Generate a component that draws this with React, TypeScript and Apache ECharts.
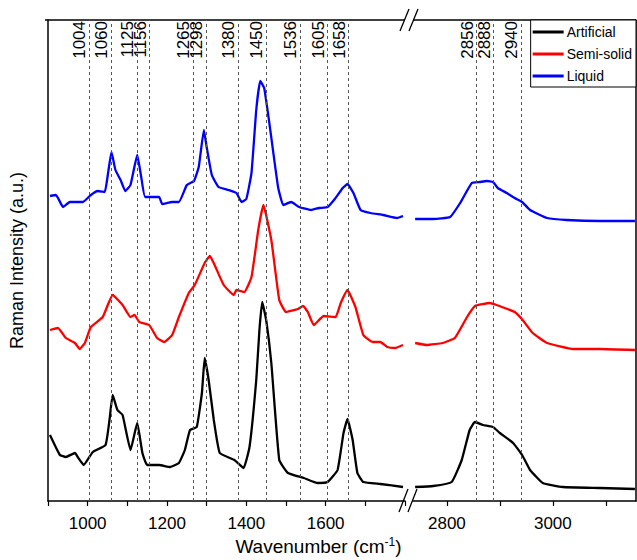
import { useEffect, useRef } from 'react';
import * as echarts from 'echarts';

// wavenumber / intensity pairs
const artificialLow = [
  [905, 57], [930, 37], [945, 35], [968, 39], [975, 35], [990, 27], [1013, 40], [1045, 47], [1055, 72],
  [1063, 97], [1075, 82], [1088, 77], [1108, 42], [1125, 69], [1138, 39], [1150, 27], [1180, 27], [1208, 25],
  [1230, 29], [1245, 42], [1258, 62], [1275, 65], [1288, 99], [1295, 134], [1305, 112], [1318, 72], [1333, 39],
  [1370, 32], [1393, 24], [1408, 45], [1425, 112], [1433, 162], [1440, 190], [1450, 172], [1463, 129],
  [1483, 32], [1505, 19], [1545, 14], [1580, 9], [1605, 10], [1630, 22], [1645, 59], [1655, 73], [1668, 52],
  [1680, 19], [1695, 10], [1738, 8], [1795, 5],
];
const artificialHigh = [
  [2740, 5], [2774, 6], [2809, 10], [2828, 32], [2843, 62], [2853, 70], [2868, 67], [2887, 65], [2900, 59],
  [2925, 49], [2942, 37], [2957, 22], [2981, 9], [3019, 5], [3089, 4], [3155, 3],
];
const semiLow = [
  [905, 162], [925, 164], [945, 154], [968, 149], [980, 143], [993, 149], [1008, 165], [1038, 175], [1063, 197],
  [1088, 187], [1108, 175], [1118, 177], [1130, 170], [1155, 167], [1175, 154], [1193, 150], [1213, 157],
  [1230, 175], [1255, 199], [1270, 207], [1295, 229], [1308, 236], [1320, 227], [1343, 207], [1368, 197],
  [1375, 202], [1395, 200], [1413, 215], [1430, 262], [1443, 287], [1463, 252], [1483, 192], [1500, 180],
  [1530, 183], [1543, 186], [1555, 180], [1570, 167], [1595, 176], [1625, 175], [1638, 189], [1655, 202],
  [1675, 185], [1695, 157], [1718, 150], [1738, 150], [1755, 145], [1775, 144], [1795, 147],
];
const semiHigh = [
  [2740, 149], [2762, 147], [2792, 149], [2815, 154], [2838, 175], [2853, 186], [2881, 189], [2894, 187],
  [2909, 184], [2928, 180], [2943, 172], [2962, 159], [2989, 149], [3038, 143], [3089, 143], [3155, 142],
];
const liquidLow = [
  [905, 296], [920, 297], [938, 285], [955, 290], [988, 290], [1008, 297], [1025, 301], [1043, 300], [1050, 315],
  [1060, 340], [1070, 322], [1083, 312], [1095, 301], [1108, 307], [1125, 337], [1135, 315], [1145, 295],
  [1180, 295], [1188, 288], [1213, 290], [1230, 290], [1250, 307], [1268, 311], [1280, 325], [1293, 362],
  [1300, 345], [1313, 317], [1330, 305], [1355, 302], [1375, 299], [1388, 290], [1400, 293], [1413, 319],
  [1425, 382], [1435, 411], [1445, 404], [1458, 369], [1480, 305], [1493, 287], [1513, 290], [1533, 285],
  [1563, 282], [1583, 284], [1605, 285], [1625, 294], [1643, 304], [1655, 308], [1670, 299], [1688, 282],
  [1713, 279], [1745, 277], [1780, 274], [1795, 276],
];
const liquidHigh = [
  [2740, 273], [2774, 273], [2806, 275], [2825, 289], [2847, 309], [2862, 310], [2875, 311], [2887, 310],
  [2896, 304], [2913, 299], [2928, 294], [2942, 290], [2957, 282], [2989, 274], [3026, 272], [3089, 271],
  [3155, 271],
];
const peaksLow = [1004, 1060, 1125, 1156, 1265, 1298, 1380, 1450, 1536, 1605, 1658];
const peaksHigh = [2856, 2888, 2940];
const lowTickLabels = [1000, 1200, 1400, 1600];
const highTicks = [2800, 2900, 3000, 3100];
const highTickLabels = [2800, 3000];

const FONT = 'Liberation Sans, Arial, sans-serif';
const TOP = 20;
const BOTTOM = 501;

export default function App() {
  const chartRef = useRef<HTMLDivElement>(null);

  useEffect(() => {
    document.body.style.margin = '0';
    if (!chartRef.current) return;
    const chart = echarts.init(chartRef.current, undefined, { renderer: 'svg' });

    const markLabel = {
      show: true,
      position: 'insideEndTop' as const,
      formatter: '{c}',
      color: '#000',
      fontFamily: FONT,
      fontSize: 17,
      distance: 1,
    };
    const marks = (vals: number[]) => ({
      silent: true,
      symbol: 'none',
      lineStyle: { color: '#555', type: [3, 3] as any, width: 1 },
      label: markLabel,
      data: vals.map((v) => ({ xAxis: v, label: markLabel })),
    });

    const line = (name: string, color: string, data: number[][], idx: number, extra: any = {}) => ({
      name,
      type: 'line',
      xAxisIndex: idx,
      yAxisIndex: idx,
      data,
      showSymbol: false,
      smooth: 0.12,
      lineStyle: { color, width: 2.3 },
      itemStyle: { color },
      z: 3,
      ...extra,
    });

    const axisText = { color: '#000', fontFamily: FONT, fontSize: 17 };
    const axisLine = { show: true, onZero: false, lineStyle: { color: '#000', width: 1.5 } };

    const option: echarts.EChartsOption = {
      animation: false,
      textStyle: { fontFamily: FONT },
      grid: [
        { left: 45, top: TOP, width: 360, height: BOTTOM - TOP },
        { left: 413, top: TOP, width: 223, height: BOTTOM - TOP },
      ],
      xAxis: [
        {
          type: 'value', gridIndex: 0, min: 900, max: 1800, interval: 100,
          axisLine, splitLine: { show: false },
          axisTick: { show: true, length: 5, lineStyle: { color: '#000', width: 1.2 } },
          axisLabel: {
            ...axisText, margin: 14,
            formatter: (v: number) => (lowTickLabels.includes(v) ? String(v) : ''),
          },
        },
        {
          type: 'value', gridIndex: 1, min: 2736, max: 3157,
          axisLine, splitLine: { show: false },
          axisTick: { show: true, length: 5, customValues: highTicks, lineStyle: { color: '#000', width: 1.2 } } as any,
          axisLabel: { ...axisText, margin: 14, customValues: highTickLabels, formatter: (v: number) => String(v) } as any,
        },
      ],
      yAxis: [
        {
          type: 'value', gridIndex: 0, min: -9, max: 472,
          axisLine, axisTick: { show: false }, axisLabel: { show: false }, splitLine: { show: false },
          name: 'Raman Intensity (a.u.)', nameLocation: 'middle', nameGap: 22,
          nameTextStyle: { color: '#000', fontFamily: FONT, fontSize: 18 },
        },
        {
          type: 'value', gridIndex: 1, min: -9, max: 472, position: 'right',
          axisLine, axisTick: { show: false }, axisLabel: { show: false }, splitLine: { show: false },
        },
      ],
      legend: {
        orient: 'vertical',
        right: 1,
        top: TOP,
        data: ['Artificial', 'Semi-solid', 'Liquid'],
        icon: 'rect',
        itemWidth: 31,
        itemHeight: 3,
        itemGap: 8,
        padding: [5, 4, 4, 2],
        backgroundColor: '#fff',
        borderColor: '#000',
        borderWidth: 1,
        borderRadius: 0,
        textStyle: { color: '#000', fontFamily: FONT, fontSize: 14, padding: [0, 0, 0, -2] },
        z: 10,
      },
      series: [
        line('Artificial', '#000000', artificialLow, 0, { markLine: marks(peaksLow) }),
        line('Semi-solid', '#ff0000', semiLow, 0),
        line('Liquid', '#0000ff', liquidLow, 0),
        line('Artificial', '#000000', artificialHigh, 1, { markLine: marks(peaksHigh) }),
        line('Semi-solid', '#ff0000', semiHigh, 1),
        line('Liquid', '#0000ff', liquidHigh, 1),
      ] as any,
      graphic: [
        { type: 'line', shape: { x1: 45, y1: TOP, x2: 405, y2: TOP }, style: { stroke: '#000', lineWidth: 1.5 } },
        { type: 'line', shape: { x1: 413, y1: TOP, x2: 636, y2: TOP }, style: { stroke: '#000', lineWidth: 1.5 } },
        { type: 'line', shape: { x1: 399, y1: 512, x2: 408, y2: 489 }, style: { stroke: '#000', lineWidth: 1.3 } },
        { type: 'line', shape: { x1: 408, y1: 512, x2: 417, y2: 489 }, style: { stroke: '#000', lineWidth: 1.3 } },
        { type: 'line', shape: { x1: 400, y1: 31, x2: 409, y2: 9 }, style: { stroke: '#000', lineWidth: 1.3 } },
        { type: 'line', shape: { x1: 409, y1: 31, x2: 418, y2: 9 }, style: { stroke: '#000', lineWidth: 1.3 } },
        {
          type: 'text',
          left: 'center',
          top: 536,
          style: {
            text: 'Wavenumber (cm{sup|-1})',
            fill: '#000',
            font: `19px ${FONT}`,
            rich: { sup: { fontSize: 12, verticalAlign: 'top', padding: [0, 0, 8, 0], fill: '#000' } },
          } as any,
        },
      ],
    };

    chart.setOption(option);
    return () => chart.dispose();
  }, []);

  return <div ref={chartRef} style={{ width: 637, height: 560 }} />;
}
